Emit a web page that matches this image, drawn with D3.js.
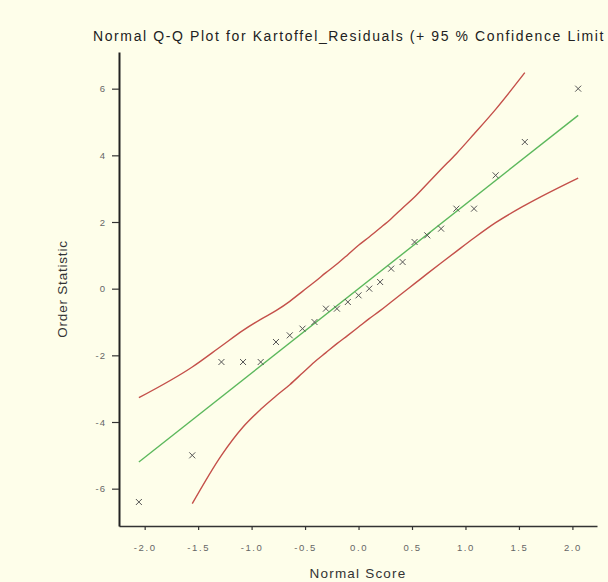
<!DOCTYPE html>
<html>
<head>
<meta charset="utf-8">
<script src="https://cdn.jsdelivr.net/npm/d3@7"></script>
<style>
  html, body { margin: 0; padding: 0; background: #fefeea; }
  svg { display: block; }
  text { font-family: "Liberation Sans", Arial, sans-serif; }
</style>
</head>
<body>
<svg id="chart" width="608" height="582"></svg>
<script>
// ---- data ----
const normalScores = [-2.054, -1.555, -1.282, -1.080, -0.915, -0.772, -0.643, -0.524, -0.412, -0.305, -0.202, -0.100, 0.000,
                      0.100, 0.202, 0.305, 0.412, 0.524, 0.643, 0.772, 0.915, 1.080, 1.282, 1.555, 2.054];
const orderStats   = [-6.4, -5.0, -2.2, -2.2, -2.2, -1.6, -1.4, -1.2, -1.0, -0.6, -0.6, -0.4, -0.2,
                      0.0, 0.2, 0.6, 0.8, 1.4, 1.6, 1.8, 2.4, 2.4, 3.4, 4.4, 6.0];
const fitX = [-2.054, 2.054];
const fitY = [-5.2, 5.2];
const upperX = [-2.054, -1.555, -1.282, -1.080, -0.915, -0.772, -0.643, -0.524, -0.412, -0.305, -0.202, -0.100, 0.000,
                0.100, 0.202, 0.305, 0.412, 0.524, 0.643, 0.772, 0.915, 1.080, 1.282, 1.555];
const upperY = [-3.27, -2.35, -1.72, -1.25, -0.92, -0.66, -0.38, -0.08, 0.20, 0.48, 0.74, 1.02, 1.30,
                1.55, 1.82, 2.10, 2.42, 2.75, 3.15, 3.58, 4.05, 4.64, 5.38, 6.48];
const lowerX = [-1.555, -1.282, -1.080, -0.915, -0.772, -0.643, -0.524, -0.412, -0.305, -0.202, -0.100, 0.000,
                0.100, 0.202, 0.305, 0.412, 0.524, 0.643, 0.772, 0.915, 1.080, 1.282, 1.555, 2.054];
const lowerY = [-6.45, -5.00, -4.15, -3.62, -3.22, -2.88, -2.53, -2.20, -1.92, -1.65, -1.40, -1.15,
                -0.90, -0.66, -0.40, -0.13, 0.15, 0.45, 0.77, 1.12, 1.52, 1.98, 2.50, 3.32];
const xTicks = [-2.0, -1.5, -1.0, -0.5, 0.0, 0.5, 1.0, 1.5, 2.0];
const yTicks = [-6, -4, -2, 0, 2, 4, 6];
const title = "Normal Q-Q Plot for Kartoffel_Residuals (+ 95 % Confidence Limit";
const xTitle = "Normal Score";
const yTitle = "Order Statistic";

// ---- chart ----
const svg = d3.select("#chart");
svg.append("rect").attr("width", 608).attr("height", 582).attr("fill", "#fefeea");

const x = d3.scaleLinear().domain([-2.24, 2.23]).range([119, 597]);
const y = d3.scaleLinear().domain([-7.12, 7.1]).range([526, 52]);

const loc = d3.formatLocale({decimal: ".", thousands: ",", grouping: [3], currency: ["", ""], minus: "-"});

// confidence bands
const line = d3.line().x(d => x(d[0])).y(d => y(d[1])).curve(d3.curveMonotoneX);
svg.append("path").datum(d3.zip(upperX, upperY)).attr("d", line)
  .attr("fill", "none").attr("stroke", "#c4504a").attr("stroke-width", 1.4);
svg.append("path").datum(d3.zip(lowerX, lowerY)).attr("d", line)
  .attr("fill", "none").attr("stroke", "#c4504a").attr("stroke-width", 1.4);
// fit line
svg.append("path").datum(d3.zip(fitX, fitY)).attr("d", d3.line().x(d => x(d[0])).y(d => y(d[1])))
  .attr("fill", "none").attr("stroke", "#5cb85c").attr("stroke-width", 1.4);

// points as x-crosses
const pts = d3.zip(normalScores, orderStats);
const s = 3;
svg.append("g").selectAll("path").data(pts).join("path")
  .attr("d", d => {
    const cx = x(d[0]), cy = y(d[1]);
    return `M${cx - s},${cy - s}L${cx + s},${cy + s}M${cx - s},${cy + s}L${cx + s},${cy - s}`;
  })
  .attr("stroke", "#555").attr("stroke-width", 1).attr("fill", "none");

// axes
const xAxis = svg.append("g").attr("transform", `translate(0,${526})`)
  .call(d3.axisBottom(x).tickValues(xTicks).tickFormat(loc.format(".1f")).tickSize(4).tickSizeOuter(0).tickPadding(14));
xAxis.select(".domain").attr("stroke", "#333").attr("stroke-width", 1.6);
xAxis.selectAll(".tick line").attr("stroke", "#333").attr("stroke-width", 1.2);
xAxis.selectAll(".tick text").attr("fill", "#666").style("font-size", "9.5px").style("letter-spacing", "1.6px")
  .style("font-family", "'Liberation Sans', Arial, sans-serif");

const yAxis = svg.append("g").attr("transform", `translate(${119},0)`)
  .call(d3.axisLeft(y).tickValues(yTicks).tickFormat(loc.format("d")).tickSize(7).tickSizeOuter(0).tickPadding(6));
yAxis.select(".domain").attr("stroke", "#222").attr("stroke-width", 2);
yAxis.selectAll(".tick line").attr("stroke", "#333").attr("stroke-width", 1.2);
yAxis.selectAll(".tick text").attr("fill", "#666").style("font-size", "9.5px").style("letter-spacing", "1px")
  .style("font-family", "'Liberation Sans', Arial, sans-serif");

// title: the visible part of the reference's title, spread to span x 93..606
const t = svg.append("text").attr("x", 93).attr("y", 41).attr("fill", "#222")
  .style("font-size", "14px").text(title);
const w = t.node().getComputedTextLength();
t.style("letter-spacing", ((512 - w) / title.length) + "px");

svg.append("text").attr("x", 358).attr("y", 578).attr("text-anchor", "middle").attr("fill", "#333")
  .style("font-size", "13.5px").style("letter-spacing", "1.2px").text(xTitle);
svg.append("text").attr("transform", "translate(67,289) rotate(-90)").attr("text-anchor", "middle").attr("fill", "#333")
  .style("font-size", "13.5px").style("letter-spacing", "0.8px").text(yTitle);
</script>
</body>
</html>
